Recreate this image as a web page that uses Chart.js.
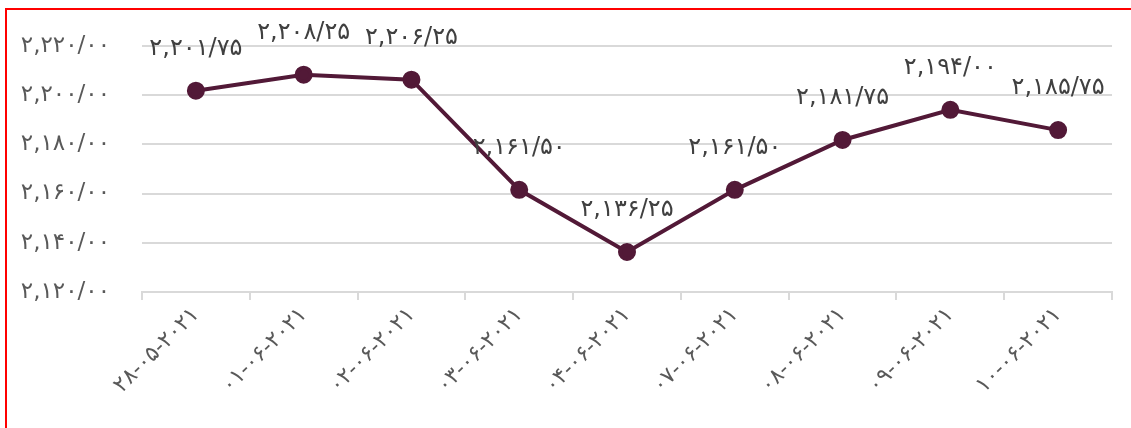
<!DOCTYPE html>
<html>
<head>
<meta charset="utf-8">
<script src="https://cdn.jsdelivr.net/npm/chart.js@4"></script>
<style>
  html, body { margin: 0; padding: 0; background: #fff; overflow: hidden; }
  #wrap { position: relative; width: 1131px; height: 428px; }
  #frame { position: absolute; left: 5px; top: 8px; width: 1200px; height: 500px;
           border-left: 2px solid #ff0000; border-top: 2px solid #ff0000; pointer-events: none; }
</style>
</head>
<body>
<div id="wrap">
  <canvas id="myChart" width="1131" height="428"></canvas>
  <div id="frame"></div>
</div>
<script>
// داده ها
const dates = ['۲۸-۰۵-۲۰۲۱', '۰۱-۰۶-۲۰۲۱', '۰۲-۰۶-۲۰۲۱', '۰۳-۰۶-۲۰۲۱', '۰۴-۰۶-۲۰۲۱',
               '۰۷-۰۶-۲۰۲۱', '۰۸-۰۶-۲۰۲۱', '۰۹-۰۶-۲۰۲۱', '۱۰-۰۶-۲۰۲۱'];
const prices = [2201.75, 2208.25, 2206.25, 2161.50, 2136.25, 2161.50, 2181.75, 2194.00, 2185.75];
const yTicks = [2120, 2140, 2160, 2180, 2200, 2220];

const FONT = "'DejaVu Sans', 'Noto Sans', sans-serif";
const faDigits = '۰۱۲۳۴۵۶۷۸۹';

// عدد به فارسی: ۲,۲۰۱/۷۵
function toFa(v) {
    let parts = v.toFixed(2).split('.');
    let intPart = parts[0].replace(/\B(?=(\d{3})+(?!\d))/g, ',');
    let s = intPart + '/' + parts[1];
    return s.replace(/\d/g, d => faDigits[+d]);
}

// برچسب روی نقاط
const pointLabels = {
    id: 'pointLabels',
    afterDatasetsDraw(chart) {
        const c = chart.ctx;
        const meta = chart.getDatasetMeta(0);
        c.save();
        c.font = '24px ' + FONT;
        c.fillStyle = '#404040';
        c.textAlign = 'center';
        c.textBaseline = 'middle';
        meta.data.forEach((pt, i) => {
            c.fillText(toFa(prices[i]), pt.x, pt.y - 42);
        });
        c.restore();
    }
};

const ctx = document.getElementById('myChart').getContext('2d');
const myChart = new Chart(ctx, {
    type: 'line',
    data: {
        labels: dates,
        datasets: [{
            data: prices,
            borderColor: '#521937',
            backgroundColor: '#521937',
            borderWidth: 4,
            pointRadius: 7,
            pointHoverRadius: 7,
            tension: 0
        }]
    },
    options: {
        responsive: false,
        animation: false,
        layout: { padding: { top: 42, right: 19, bottom: 0, left: 0 } },
        plugins: {
            legend: { display: false },
            tooltip: { enabled: false }
        },
        scales: {
            x: {
                offset: true,
                grid: {
                    offset: true,
                    drawOnChartArea: false,
                    drawTicks: true,
                    tickLength: 8,
                    color: '#d9d9d9',
                    lineWidth: 2
                },
                border: { display: true, color: '#d9d9d9', width: 2 },
                ticks: {
                    minRotation: 45,
                    maxRotation: 45,
                    color: '#595959',
                    font: { size: 22, family: FONT },
                    padding: 2
                },
                afterFit: s => { s.height = 136; }
            },
            y: {
                min: 2120,
                max: 2220,
                afterBuildTicks: s => { s.ticks = yTicks.map(v => ({ value: v })); },
                grid: { color: '#d9d9d9', lineWidth: 2, drawTicks: false },
                border: { display: false },
                ticks: {
                    color: '#595959',
                    font: { size: 23, family: FONT },
                    padding: 32,
                    callback: v => toFa(v)
                },
                afterFit: s => { s.width = 142; }
            }
        }
    },
    plugins: [pointLabels]
});
</script>
</body>
</html>
